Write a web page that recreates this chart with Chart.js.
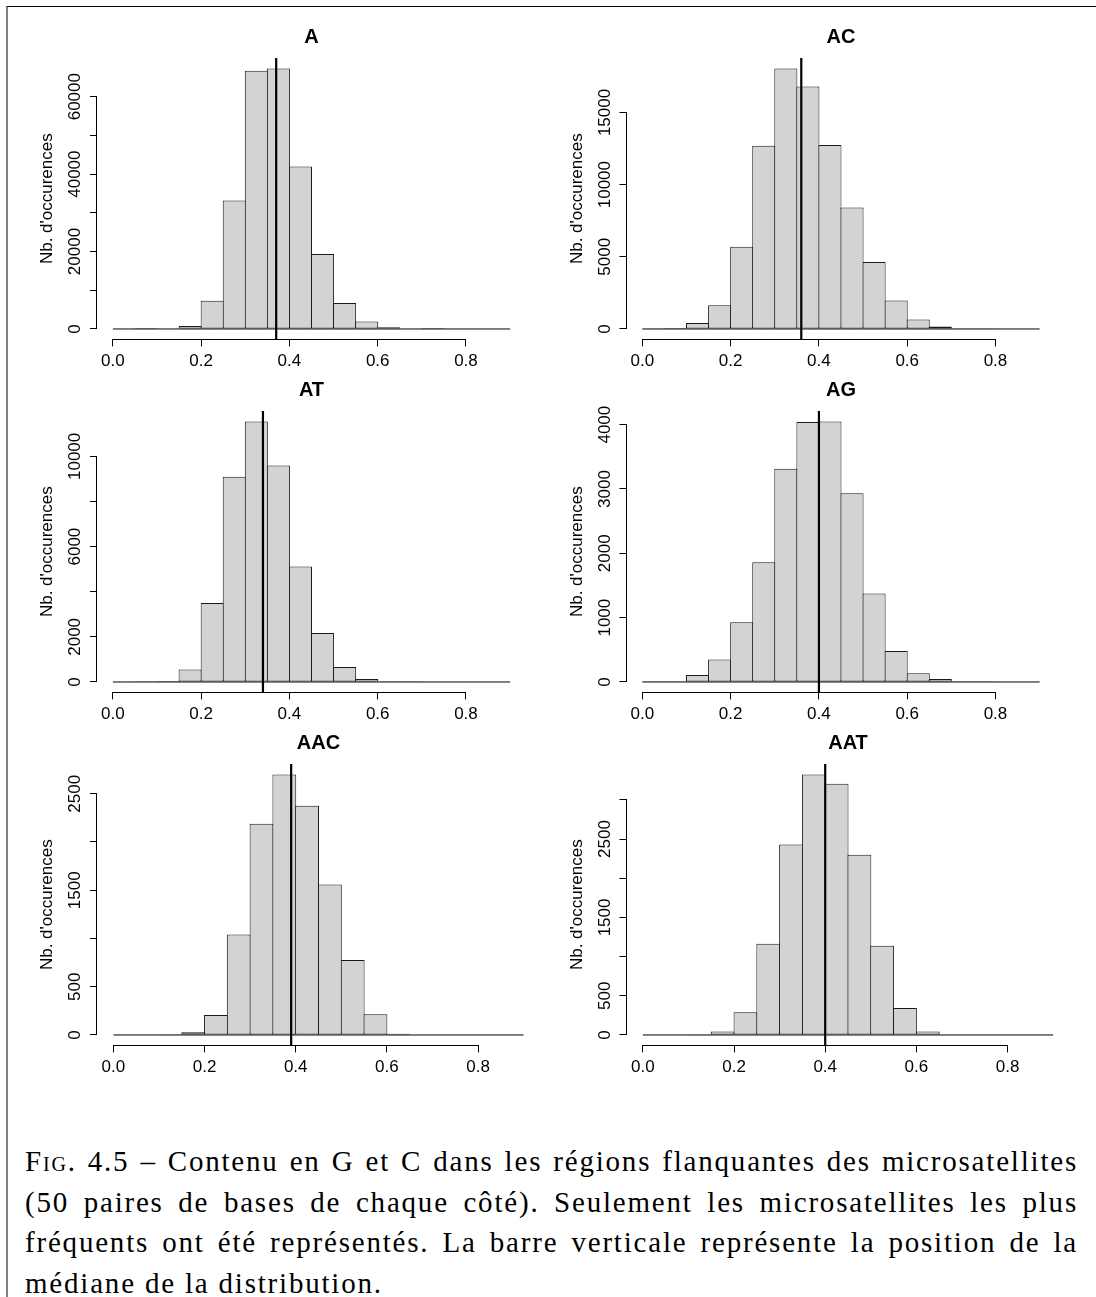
<!DOCTYPE html>
<html>
<head>
<meta charset="utf-8">
<script src="https://cdn.jsdelivr.net/npm/chart.js@4.4.1/dist/chart.umd.min.js"></script>
<style>
  body { margin: 0; background: #fff; }
  #page { position: relative; width: 1096px; height: 1297px; overflow: hidden; background: #fff; }
  #frame { position: absolute; left: 6px; top: 6px; right: 0; bottom: -2px; border-top: 1px solid #000; border-left: 2px solid #808080; }
  canvas { position: absolute; }
  #caption { position: absolute; left: 25px; width: 1053px; top: 1141px; font-family: "Liberation Serif", serif; font-size: 29px; line-height: 40.5px; letter-spacing: 1.8px; color: #000; }
  #caption div { text-align: justify; text-align-last: justify; }
  #caption div.last { text-align: left; text-align-last: left; }
  .sc { font-variant: small-caps; }
</style>
</head>
<body>
<div id="page">
  <div id="frame"></div>
  <div id="caption">
    <div><span class="sc">Fig.</span> 4.5 – Contenu en G et C dans les régions flanquantes des microsatellites</div>
    <div>(50 paires de bases de chaque côté). Seulement les microsatellites les plus</div>
    <div>fréquents ont été représentés. La barre verticale représente la position de la</div>
    <div class="last">médiane de la distribution.</div>
  </div>
</div>
<script>
// histogram breaks (bin width 0.05)
var breaks = [0, 0.05, 0.1, 0.15, 0.2, 0.25, 0.3, 0.35, 0.4, 0.45, 0.5, 0.55, 0.6, 0.65, 0.7, 0.75, 0.8, 0.85, 0.9];
var xTicks = [0, 0.2, 0.4, 0.6, 0.8];
var xTickLabels = ["0.0", "0.2", "0.4", "0.6", "0.8"];

var motifs = ["A", "AC", "AT", "AG", "AAC", "AAT"];

// counts per bin
var countsA   = [0, 20, 150, 780, 7300, 33200, 66700, 67300, 41950, 19350, 6700, 1900, 430, 100, 20, 0, 0, 0];
var countsAC  = [10, 60, 420, 1640, 5700, 12700, 18050, 16800, 12750, 8420, 4640, 1980, 650, 180, 50, 15, 0, 0];
var countsAT  = [0, 10, 45, 550, 3500, 9100, 11550, 9600, 5120, 2170, 665, 135, 30, 5, 0, 0, 0, 0];
var countsAG  = [5, 10, 110, 350, 930, 1860, 3315, 4040, 4050, 2935, 1375, 480, 135, 47, 12, 4, 0, 0];
var countsAAC = [0, 0, 7, 28, 207, 1040, 2190, 2700, 2375, 1560, 776, 214, 14, 5, 0, 0, 0, 0];
var countsAAT = [0, 0, 8, 43, 290, 1165, 2430, 3325, 3205, 2300, 1140, 345, 43, 7, 0, 0, 0, 0];

var medians = [0.37, 0.36, 0.34, 0.40, 0.39, 0.40];

// y axis ticks, and which of them carry a label
var yTicksA   = [0, 10000, 20000, 30000, 40000, 50000, 60000];
var yLabelsA  = ["0", "", "20000", "", "40000", "", "60000"];
var yTicksAC  = [0, 5000, 10000, 15000];
var yLabelsAC = ["0", "5000", "10000", "15000"];
var yTicksAT  = [0, 2000, 4000, 6000, 8000, 10000];
var yLabelsAT = ["0", "2000", "", "6000", "", "10000"];
var yTicksAG  = [0, 1000, 2000, 3000, 4000];
var yLabelsAG = ["0", "1000", "2000", "3000", "4000"];
var yTicksAAC  = [0, 500, 1000, 1500, 2000, 2500];
var yLabelsAAC = ["0", "500", "", "1500", "", "2500"];
var yTicksAAT  = [0, 500, 1000, 1500, 2000, 2500, 3000];
var yLabelsAAT = ["0", "500", "", "1500", "", "2500", ""];

var yLabel = "Nb. d'occurences";

Chart.defaults.font.family = "'Liberation Sans', Arial, sans-serif";
Chart.defaults.color = "#000";

// R style axes: line only between first and last tick, rotated y labels
var rAxes = {
	id: "rAxes",
	afterDraw: function(chart, args, opts) {
		var ctx = chart.ctx;
		var area = chart.chartArea;
		var x = chart.scales.x, y = chart.scales.y;
		ctx.save();
		ctx.strokeStyle = "#000";
		ctx.lineWidth = 1;
		ctx.beginPath();
		var yb = Math.round(area.bottom) + 0.5;
		ctx.moveTo(x.getPixelForValue(x.ticks[0].value), yb);
		ctx.lineTo(x.getPixelForValue(x.ticks[x.ticks.length - 1].value), yb);
		var xl = Math.round(area.left) - 0.5;
		ctx.moveTo(xl, y.getPixelForValue(y.ticks[0].value));
		ctx.lineTo(xl, y.getPixelForValue(y.ticks[y.ticks.length - 1].value));
		ctx.stroke();

		ctx.fillStyle = "#000";
		ctx.font = "17px 'Liberation Sans', Arial, sans-serif";
		ctx.textAlign = "center";
		ctx.textBaseline = "alphabetic";
		for (var i = 0; i < y.ticks.length; i++) {
			var lab = opts.labels[i];
			if (!lab) continue;
			ctx.save();
			ctx.translate(Math.round(area.left) - 17, y.getPixelForValue(y.ticks[i].value));
			ctx.rotate(-Math.PI / 2);
			ctx.fillText(lab, 0, 0);
			ctx.restore();
		}
		ctx.restore();
	}
};

var panels = [
	{ counts: countsA,   yTicks: yTicksA,   yLabels: yLabelsA,   left: 0,   top: 22,  width: 545, yW: 97,   plotW: 429 },
	{ counts: countsAC,  yTicks: yTicksAC,  yLabels: yLabelsAC,  left: 545, top: 22,  width: 551, yW: 81.5, plotW: 429 },
	{ counts: countsAT,  yTicks: yTicksAT,  yLabels: yLabelsAT,  left: 0,   top: 375, width: 545, yW: 97,   plotW: 429 },
	{ counts: countsAG,  yTicks: yTicksAG,  yLabels: yLabelsAG,  left: 545, top: 375, width: 551, yW: 81.5, plotW: 429 },
	{ counts: countsAAC, yTicks: yTicksAAC, yLabels: yLabelsAAC, left: 0,   top: 728, width: 545, yW: 97,   plotW: 443 },
	{ counts: countsAAT, yTicks: yTicksAAT, yLabels: yLabelsAAT, left: 545, top: 728, width: 551, yW: 81.5, plotW: 443 }
];

var canvasH = 353, topArea = 36, plotH = 281.4;
var page = document.getElementById("page");

panels.forEach(function(p, k) {
	var canvas = document.createElement("canvas");
	canvas.width = p.width;
	canvas.height = canvasH;
	canvas.style.left = p.left + "px";
	canvas.style.top = p.top + "px";
	canvas.style.width = p.width + "px";
	canvas.style.height = canvasH + "px";
	page.appendChild(canvas);

	var ymax = Math.max.apply(null, p.counts);
	var lo = breaks[0], hi = breaks[breaks.length - 1];
	var xpad = 0.04 * (hi - lo);
	var bars = p.counts.map(function(c, i) {
		return { x: (breaks[i] + breaks[i + 1]) / 2, y: c };
	});

	new Chart(canvas, {
		type: "bar",
		data: {
			datasets: [
				{
					type: "line",
					data: [{ x: medians[k], y: -0.04 * ymax }, { x: medians[k], y: 1.04 * ymax }],
					borderColor: "#000",
					borderWidth: 2.2,
					pointRadius: 0,
					order: 0
				},
				{
					type: "line",
					data: [{ x: lo, y: 0 }, { x: hi, y: 0 }],
					borderColor: "#000",
					borderWidth: 1,
					pointRadius: 0,
					order: 1
				},
				{
					type: "bar",
					data: bars,
					backgroundColor: "#d3d3d3",
					borderColor: "#1a1a1a",
					borderWidth: 1,
					borderSkipped: false,
					barPercentage: 1.045,
					categoryPercentage: 1,
					order: 2
				}
			]
		},
		options: {
			responsive: false,
			animation: false,
			events: [],
			layout: { padding: { left: 0, top: 0, bottom: 0, right: p.width - p.yW - p.plotW } },
			plugins: {
				legend: { display: false },
				tooltip: { enabled: false },
				title: {
					display: true,
					text: motifs[k],
					fullSize: false,
					color: "#000",
					font: { size: 20, weight: "bold", lineHeight: 1.2 },
					padding: { top: 3.7, bottom: 8.3 }
				},
				rAxes: { labels: p.yLabels }
			},
			scales: {
				x: {
					type: "linear",
					bounds: "data",
					offset: false,
					min: lo - xpad,
					max: hi + xpad,
					afterBuildTicks: function(s) {
						s.ticks = xTicks.map(function(v) { return { value: v }; });
					},
					afterFit: function(s) { s.height = canvasH - topArea - plotH; },
					border: { display: false },
					grid: { offset: false, drawOnChartArea: false, drawTicks: true, tickLength: 7, color: "#000", tickColor: "#000", tickWidth: 1 },
					ticks: {
						autoSkip: false, maxRotation: 0, minRotation: 0, padding: 4.5,
						color: "#000", font: { size: 17 },
						callback: function(v, i) { return xTickLabels[i]; }
					}
				},
				y: {
					type: "linear",
					bounds: "data",
					min: -0.04 * ymax,
					max: 1.04 * ymax,
					afterBuildTicks: function(s) {
						s.ticks = p.yTicks.map(function(v) { return { value: v }; });
					},
					afterFit: function(s) { s.width = p.yW; },
					border: { display: false },
					grid: { drawOnChartArea: false, drawTicks: true, tickLength: 7, color: "#000", tickColor: "#000", tickWidth: 1 },
					ticks: { display: false },
					title: {
						display: true,
						text: yLabel,
						color: "#000",
						font: { size: 17, lineHeight: 1.2 },
						padding: { top: p.yW - 59.7, bottom: 0 }
					}
				}
			}
		},
		plugins: [rAxes]
	});
});
</script>
</body>
</html>
